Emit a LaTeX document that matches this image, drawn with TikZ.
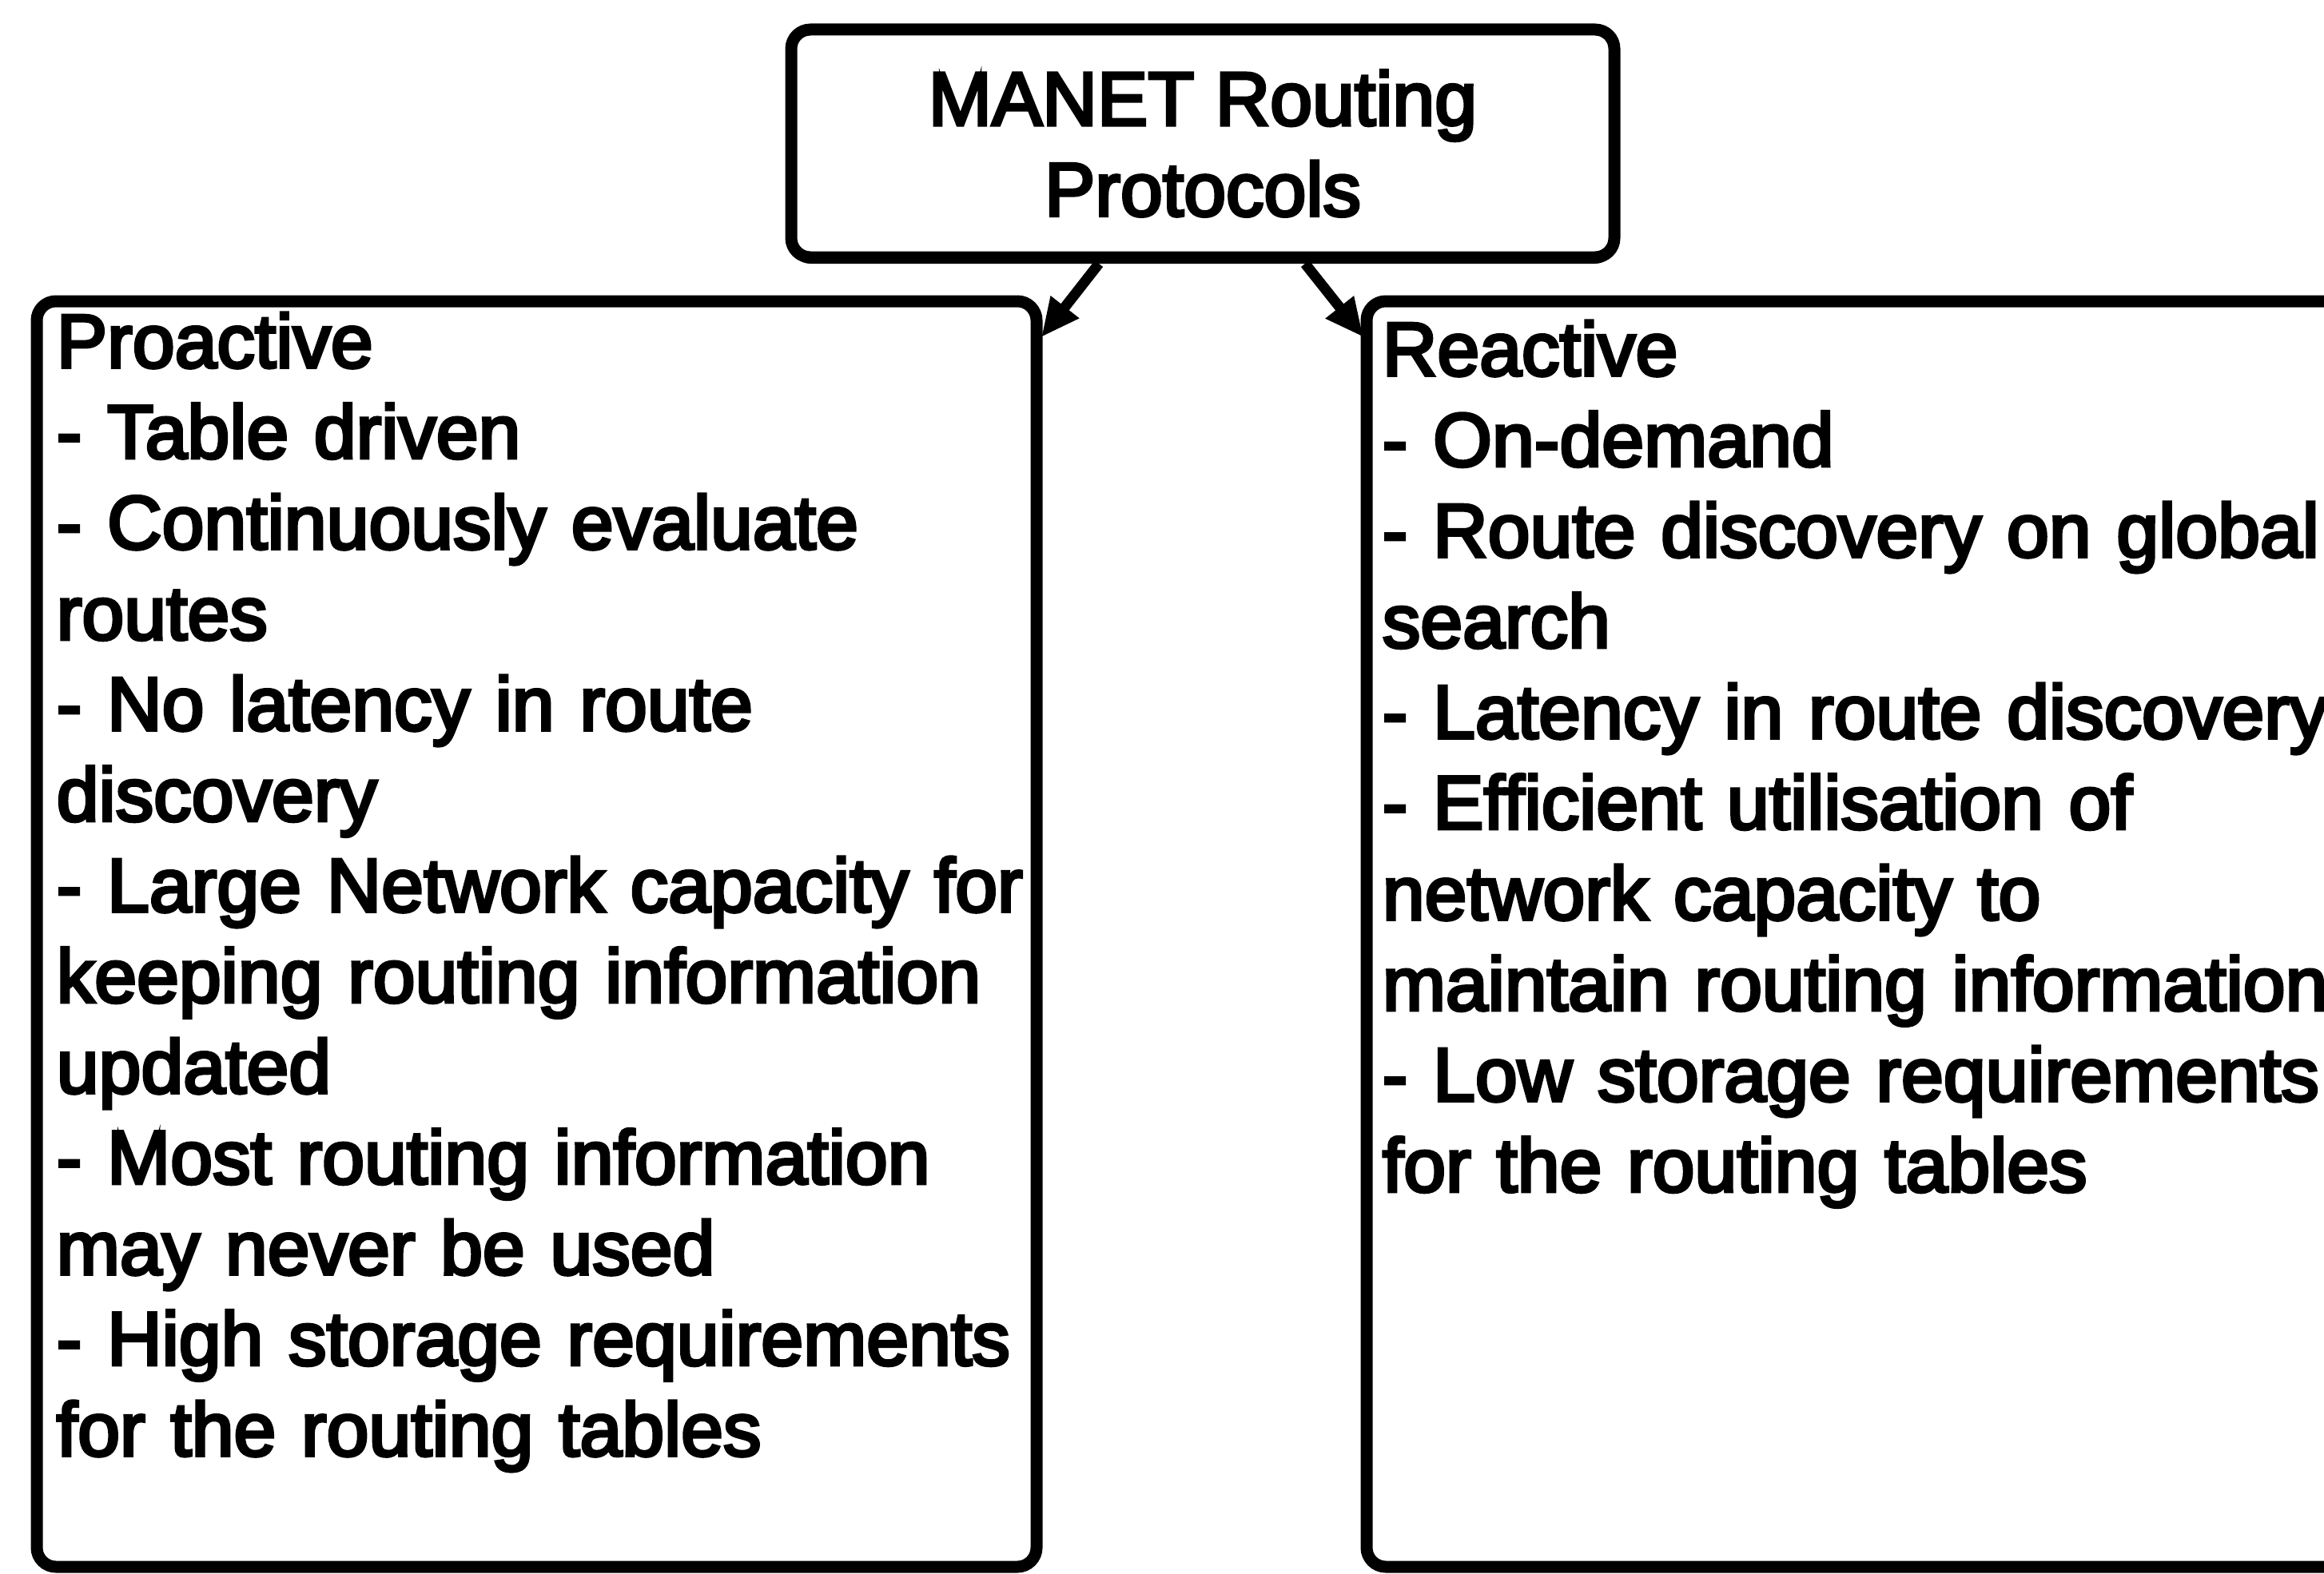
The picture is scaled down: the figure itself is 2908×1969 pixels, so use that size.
\documentclass[tikz,border=0pt]{standalone}
\usepackage{fontspec}
\newfontfamily\scanfont{Liberation Sans}[FakeBold=4]
\usetikzlibrary{arrows.meta,calc,shadows}
\tikzset{
  x=0.25pt, y=-0.25pt,
  every node/.style={font=\scanfont\fontsize{23.75pt}{28.375pt}\selectfont},
  boxline/.style={draw=black, line width=3.75pt, rounded corners=6pt,
    fill=white, inner sep=0pt, outer sep=0pt},
  topbox/.style={boxline, minimum width=257.5pt, minimum height=71.25pt,
    align=center,
    drop shadow={shadow xshift=0pt, shadow yshift=-2pt, opacity=1, fill=black}},
  sidebox/.style={boxline, minimum height=396pt, anchor=north west},
  bodytext/.style={inner sep=0pt, anchor=base west, text width=330pt, align=left},
  conn/.style={line width=3.25pt, -{Triangle[length=12pt,width=10.5pt]}}
}
\begin{document}
\begin{tikzpicture}
  \useasboundingbox (0,0) rectangle (2908,1969);
  \fill[white] (0,0) rectangle (2908,1969);
  \clip (0,0) rectangle (2908,1969);

  % the two class boxes
  \node[sidebox, minimum width=312.75pt] (pro) at (46,377) {};
  \node[sidebox, minimum width=312.5pt] (rea) at (1710,377) {};

  % root box
  \node[topbox] (manet) at (1505,179.5) {MANET Routing\\Protocols};

  % box contents
  \node[bodytext] (protext) at ($(pro.north west)+(24,83)$) {Proactive\\
    - Table driven\\
    - Continuously evaluate\\
    routes\\
    - No latency in route\\
    discovery\\
    - Large Network capacity for\\
    keeping routing information\\
    updated\\
    - Most routing information\\
    may never be used\\
    - High storage requirements\\
    for the routing tables};
  \node[bodytext] (reatext) at ($(rea.north west)+(19,93)$) {Reactive\\
    - On-demand\\
    - Route discovery on global\\
    search\\
    - Latency in route discovery\\
    - Efficient utilisation of\\
    network capacity to\\
    maintain routing information\\
    - Low storage requirements\\
    for the routing tables};

  % connectors
  \draw[conn] ($(manet.south)+(-130,8)$) -- ($(pro.north east)+(6,45)$);
  \draw[conn] ($(manet.south)+(128,8)$) -- ($(rea.north west)+(-4,45)$);
\end{tikzpicture}
\end{document}
